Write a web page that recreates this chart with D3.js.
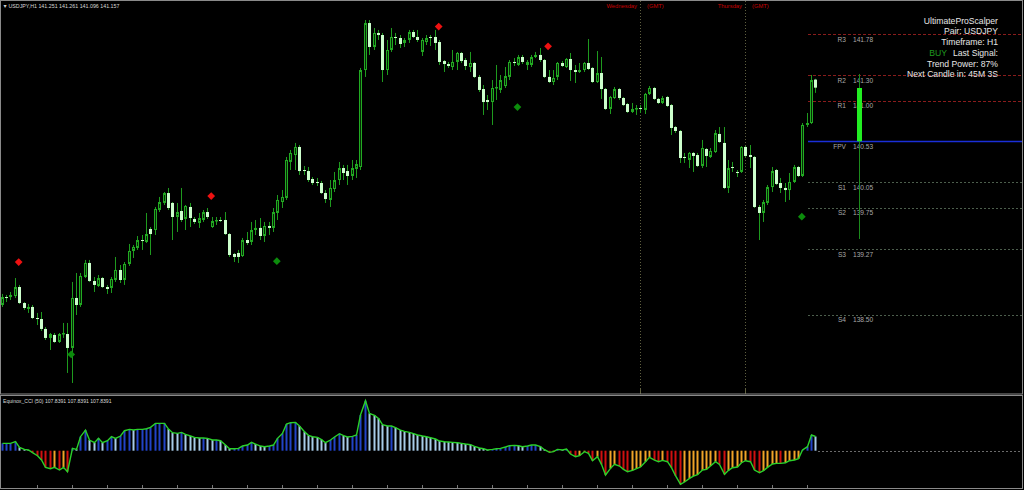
<!DOCTYPE html>
<html><head><meta charset="utf-8">
<script src="https://cdn.jsdelivr.net/npm/d3@7"></script>
<style>html,body{margin:0;padding:0;background:#000;overflow:hidden}svg{display:block}</style>
</head><body><svg id="c" width="1024" height="490"></svg>
<script>
// ---------- DATA ----------
const symbolTitle = "USDJPY,H1";
const openP = [
138.618,138.711,138.711,138.723,138.828,138.641,138.571,138.595,138.466,138.454,
138.338,138.233,138.268,138.186,138.279,138.279,138.116,138.700,138.618,138.945,
139.109,138.898,138.840,138.933,138.828,138.817,138.910,139.027,138.910,139.097,
139.249,139.284,139.377,139.354,139.506,139.494,139.728,139.810,139.926,139.810,
139.646,139.716,139.623,139.763,139.623,139.576,139.611,139.704,139.529,139.599,
139.611,139.611,139.447,139.214,139.226,139.190,139.377,139.354,139.494,139.518,
139.424,139.541,139.518,139.693,139.821,139.868,140.289,140.370,140.464,140.195,
140.183,140.090,140.055,140.043,139.926,139.845,139.973,140.078,140.218,140.183,
140.125,140.207,140.230,141.363,141.912,141.632,141.796,141.772,141.363,141.597,
141.749,141.737,141.679,141.714,141.807,141.749,141.574,141.690,141.749,141.749,
141.690,141.468,141.433,141.398,141.457,141.562,141.480,141.398,141.445,141.282,
141.141,141.013,140.989,141.153,141.130,141.176,141.282,141.457,141.422,141.515,
141.422,141.422,141.515,141.539,141.480,141.282,141.223,141.282,141.445,141.398,
141.492,141.363,141.340,141.363,141.445,141.387,141.223,141.328,141.141,140.908,
141.036,141.141,141.036,140.966,140.873,140.908,140.919,140.896,141.083,141.153,
141.025,140.978,141.048,140.954,140.697,140.651,140.347,140.312,140.394,140.370,
140.242,140.440,140.347,140.405,140.616,140.511,139.985,140.230,140.172,140.172,
140.464,140.370,140.347,139.763,139.693,139.810,139.996,140.195,140.043,139.985,
139.961,140.055,140.230,140.125,140.721,140.744,141.251];
const highP = [
138.747,138.735,138.770,138.933,138.852,138.653,138.630,138.618,138.525,138.536,
138.361,138.291,138.291,138.291,138.408,138.408,138.887,138.992,138.992,139.144,
139.144,138.945,138.968,138.945,138.852,138.945,139.179,139.085,139.120,139.331,
139.319,139.424,139.436,139.693,139.529,139.763,139.880,139.938,139.985,139.821,
139.810,139.985,139.786,139.810,139.646,139.693,139.728,139.751,139.646,139.646,
139.646,139.704,139.459,139.226,139.261,139.401,139.471,139.588,139.611,139.634,
139.588,139.588,139.751,139.903,139.961,140.347,140.429,140.511,140.487,140.242,
140.230,140.113,140.102,140.067,139.961,140.078,140.172,140.289,140.254,140.254,
140.312,140.312,141.387,141.947,141.947,141.854,141.831,141.796,141.714,141.854,
141.796,141.772,141.737,141.831,141.831,141.831,141.737,141.772,141.772,141.831,
141.714,141.480,141.457,141.597,141.574,141.574,141.503,141.574,141.457,141.305,
141.188,141.071,141.246,141.422,141.305,141.398,141.480,141.503,141.539,141.539,
141.480,141.539,141.574,141.620,141.492,141.363,141.363,141.457,141.468,141.503,
141.562,141.422,141.445,141.457,141.725,141.398,141.585,141.515,141.153,141.060,
141.165,141.153,141.048,140.978,140.978,140.954,140.954,141.095,141.176,141.165,
141.036,141.060,141.060,140.966,140.709,140.662,140.394,140.405,140.405,140.394,
140.546,140.452,140.452,140.662,140.697,140.697,140.312,140.289,140.195,140.475,
140.475,140.487,140.359,139.786,139.845,140.020,140.230,140.207,140.102,140.043,
140.160,140.254,140.242,140.744,140.861,141.305,141.261];
const lowP = [
138.595,138.653,138.676,138.700,138.630,138.560,138.525,138.454,138.384,138.314,
138.209,138.092,138.174,138.174,138.233,137.824,137.707,138.501,138.595,138.933,
138.887,138.770,138.828,138.817,138.747,138.758,138.887,138.875,138.852,139.074,
139.167,139.261,139.261,139.342,139.202,139.436,139.704,139.786,139.728,139.377,
139.471,139.588,139.494,139.529,139.564,139.518,139.588,139.623,139.518,139.553,
139.588,139.436,139.179,139.120,139.109,139.179,139.319,139.319,139.436,139.377,
139.354,139.436,139.471,139.611,139.751,139.845,140.195,140.195,140.137,140.137,
140.055,140.020,140.008,139.915,139.810,139.763,139.938,140.020,140.078,140.020,
140.078,140.102,140.195,141.282,141.539,141.597,141.714,141.223,141.305,141.574,
141.655,141.620,141.632,141.679,141.737,141.690,141.527,141.655,141.644,141.597,
141.422,141.340,141.387,141.363,141.363,141.445,141.363,141.340,141.270,141.106,
140.838,140.896,140.721,141.013,141.095,141.153,141.246,141.410,141.410,141.433,
141.363,141.398,141.503,141.457,141.270,141.211,141.188,141.246,141.398,141.387,
141.235,141.211,141.328,141.340,141.363,141.211,141.211,141.025,140.896,140.849,
141.025,141.013,140.943,140.861,140.861,140.838,140.861,140.849,141.071,141.013,
140.966,140.966,140.931,140.604,140.627,140.277,140.277,140.218,140.172,140.230,
140.218,140.230,140.335,140.394,140.511,139.973,139.926,140.172,140.113,140.160,
140.347,140.218,139.751,139.377,139.588,139.786,139.938,140.020,139.926,139.821,
139.845,140.043,140.113,140.113,140.697,140.732,141.096];
const closeP = [
138.711,138.700,138.735,138.828,138.641,138.583,138.595,138.466,138.454,138.338,
138.233,138.279,138.186,138.279,138.291,138.116,138.700,138.618,138.957,139.109,
138.898,138.852,138.933,138.828,138.805,138.922,139.027,138.910,139.097,139.249,
139.296,139.377,139.366,139.447,139.447,139.740,139.821,139.926,139.751,139.646,
139.704,139.611,139.775,139.634,139.588,139.634,139.704,139.646,139.599,139.611,
139.599,139.447,139.202,139.179,139.179,139.377,139.342,139.494,139.518,139.424,
139.541,139.518,139.704,139.845,139.880,140.312,140.394,140.464,140.183,140.183,
140.078,140.043,140.043,139.926,139.856,139.985,140.078,140.218,140.160,140.125,
140.218,140.265,141.363,141.912,141.632,141.796,141.772,141.363,141.597,141.749,
141.737,141.667,141.714,141.807,141.749,141.714,141.714,141.737,141.737,141.679,
141.457,141.433,141.410,141.457,141.562,141.468,141.410,141.445,141.282,141.130,
140.989,140.989,141.153,141.165,141.246,141.293,141.457,141.445,141.515,141.457,
141.457,141.515,141.539,141.480,141.282,141.223,141.270,141.445,141.410,141.492,
141.363,141.340,141.363,141.445,141.375,141.223,141.328,141.141,140.908,141.048,
141.141,141.036,140.954,140.873,140.908,140.919,140.908,141.083,141.153,141.025,
140.978,141.036,140.943,140.686,140.651,140.335,140.335,140.394,140.359,140.242,
140.452,140.359,140.417,140.627,140.522,139.985,140.218,140.218,140.160,140.464,
140.359,140.347,139.763,139.693,139.821,139.996,140.183,140.032,139.985,139.961,
140.055,140.230,140.125,140.721,140.744,141.246,141.157];
const cciValues = [
55.7,55.7,55.7,68.4,25.3,10.1,5.1,-15.2,-38.0,-70.9,
-126.7,-136.8,-126.7,-146.9,-126.7,-159.6,17.7,10.1,106.4,157.0,
81.1,60.8,93.7,60.8,76.0,106.4,93.7,111.5,152.0,162.1,
157.0,162.1,162.1,167.2,177.3,207.7,207.7,207.7,164.6,136.8,
131.7,139.3,124.1,111.5,101.3,96.3,96.3,93.7,81.1,81.1,
76.0,43.1,15.2,15.2,17.7,35.5,43.1,63.3,50.7,35.5,
30.4,35.5,43.1,93.7,131.7,202.6,212.8,215.3,187.4,144.4,
116.5,106.4,101.3,83.6,60.8,81.1,103.9,129.2,114.0,103.9,
108.9,119.1,271.0,380.0,283.7,268.5,245.7,197.6,187.4,187.4,
174.8,157.0,146.9,139.3,129.2,119.1,111.5,106.4,98.8,88.7,
73.5,68.4,65.9,63.3,60.8,55.7,50.7,45.6,32.9,20.3,
15.2,5.1,10.1,15.2,17.7,27.9,38.0,40.5,38.0,30.4,
35.5,43.1,43.1,30.4,7.6,-12.7,-7.6,10.1,5.1,12.7,
-25.3,-45.6,-38.0,-7.6,-20.3,-76.0,-45.6,-103.9,-184.9,-134.2,
-103.9,-116.5,-141.8,-159.6,-149.4,-136.8,-124.1,-83.6,-50.7,-70.9,
-83.6,-73.5,-83.6,-129.2,-190.0,-255.8,-238.1,-210.2,-192.5,-182.4,
-146.9,-141.8,-116.5,-83.6,-103.9,-179.8,-149.4,-129.2,-124.1,-91.2,
-76.0,-83.6,-146.9,-167.2,-152.0,-126.7,-101.3,-96.3,-96.3,-91.2,
-76.0,-70.9,-60.8,5.1,30.4,119.1,107.8391];
const cciLabel = "Equinox_CCI (50)";
const pivotNames = ["R3","R2","R1","FPV","S1","S2","S3","S4"];
const pivotValues = [141.78,141.30,141.00,140.53,140.05,139.75,139.27,138.50];
const sellSignalBar = [4,48,100,125];
const sellSignalPrice = [139.12,139.89,141.87,141.64];
const buySignalBar = [16,63,118,183];
const buySignalPrice = [138.04,139.13,140.93,139.65];
const separatorBars = [146,170];
const separatorDays = ["Wednesday","Thursday"];
const trendBarLevels = [139.389,140.53,141.153,141.317]; // low, body bottom, body top, high
const infoLines = ["UltimateProScalper","Pair: USDJPY","Timeframe: H1","Last Signal:","Trend Power: 87%","Next Candle in: 45M 3S"];
const lastSignal = "BUY";

// ---------- DRAW ----------
const W = 1024, H = 490;
const svg = d3.select("#c");
const FONT = "'Liberation Sans', Arial, sans-serif";
svg.append("rect").attr("width", W).attr("height", H).attr("fill", "#000");

const n = openP.length;
const idx = d3.range(n);
const x = d3.scaleLinear().domain([0, n - 1]).range([1.7, 1.7 + (n - 1) * 4.375]);
const y = d3.scaleLinear().domain([142.181, 137.6]).range([0, 392.13]);
const px = i => Math.round(x(i));

const defs = svg.append("defs");
defs.append("clipPath").attr("id", "mainClip").append("rect").attr("x", 1).attr("y", 1).attr("width", 1021).attr("height", 393);
defs.append("clipPath").attr("id", "subClip").append("rect").attr("x", 1).attr("y", 396).attr("width", 1021).attr("height", 92);

const main = svg.append("g").attr("clip-path", "url(#mainClip)");

// day separators
main.selectAll("line.sep").data(separatorBars).join("line")
  .attr("x1", d => px(d) + 0.5).attr("x2", d => px(d) + 0.5)
  .attr("y1", 1).attr("y2", 394)
  .attr("stroke", "#5f5f3f").attr("stroke-width", 1).attr("stroke-dasharray", "1,2");
svg.selectAll("line.sep2").data(separatorBars).join("line")
  .attr("x1", d => px(d) + 0.5).attr("x2", d => px(d) + 0.5)
  .attr("y1", 389).attr("y2", 394).attr("stroke", "#5f5f3f");
svg.selectAll("text.day").data(separatorBars).join("text")
  .attr("x", d => px(d) - 3).attr("y", 8)
  .attr("text-anchor", "end").attr("font-family", FONT).attr("font-size", 5.8)
  .attr("fill", "#c80000").text((d, k) => separatorDays[k]);
svg.selectAll("text.gmt").data(separatorBars).join("text")
  .attr("x", d => px(d) + 7).attr("y", 8)
  .attr("font-family", FONT).attr("font-size", 5.8)
  .attr("fill", "#c80000").text("(GMT)");

// pivot lines
const pivotStartX = 808;
const pivotColor = k => pivotNames[k] === "FPV" ? "#1a2fd8" : (pivotNames[k][0] === "R" ? "#8a1c1c" : "#4c5e4c");
main.selectAll("line.piv").data(pivotValues).join("line")
  .attr("x1", pivotStartX).attr("x2", 1022)
  .attr("y1", d => Math.round(y(d)) + 0.5).attr("y2", d => Math.round(y(d)) + 0.5)
  .attr("stroke", (d, k) => pivotColor(k))
  .attr("stroke-width", (d, k) => pivotNames[k] === "FPV" ? 1.6 : 1)
  .attr("stroke-dasharray", (d, k) => pivotNames[k] === "FPV" ? null : (pivotNames[k][0] === "R" ? "3,2" : "2,2"));
main.selectAll("text.pivn").data(pivotValues).join("text")
  .attr("x", 846).attr("y", d => y(d) + 7.4).attr("text-anchor", "end")
  .attr("font-family", FONT).attr("font-size", 6.6).attr("fill", "#a8a8a8")
  .text((d, k) => pivotNames[k]);
main.selectAll("text.pivv").data(pivotValues).join("text")
  .attr("x", 853).attr("y", d => y(d) + 7.4)
  .attr("font-family", FONT).attr("font-size", 6.6).attr("fill", "#a8a8a8")
  .text(d => d.toFixed(2));

// trend power bar
const tbX = 859;
main.append("line").attr("x1", tbX + 0.5).attr("x2", tbX + 0.5)
  .attr("y1", y(trendBarLevels[3])).attr("y2", y(trendBarLevels[0]))
  .attr("stroke", "#1c8a1c").attr("stroke-width", 1);
main.append("rect").attr("x", tbX - 2).attr("width", 5)
  .attr("y", y(trendBarLevels[2])).attr("height", y(trendBarLevels[1]) - y(trendBarLevels[2]))
  .attr("fill", "#22ee22");

// candles
const bull = i => closeP[i] >= openP[i];
main.selectAll("line.wick").data(idx).join("line")
  .attr("x1", i => px(i) + 0.5).attr("x2", i => px(i) + 0.5)
  .attr("y1", i => y(highP[i])).attr("y2", i => y(lowP[i]))
  .attr("stroke", "#1e9a1e").attr("stroke-width", 1);
main.selectAll("rect.body").data(idx).join("rect")
  .attr("x", i => bull(i) ? px(i) - 0.5 : px(i) - 1)
  .attr("width", i => bull(i) ? 2 : 3)
  .attr("y", i => {
    const t = y(Math.max(openP[i], closeP[i]));
    return bull(i) ? t + 0.5 : t;
  })
  .attr("height", i => {
    const h = Math.abs(y(openP[i]) - y(closeP[i]));
    return bull(i) ? Math.max(h - 1, 0.5) : Math.max(h, 1);
  })
  .attr("fill", i => bull(i) ? "#062a06" : "#ccffcc")
  .attr("stroke", i => bull(i) ? "#22aa22" : "none")
  .attr("stroke-width", 1);

// signal diamonds
const diamond = d3.symbol(d3.symbolSquare, 30)();
main.selectAll("path.sell").data(sellSignalBar).join("path")
  .attr("d", diamond)
  .attr("transform", (d, k) => `translate(${x(d) - 0.5},${y(sellSignalPrice[k])}) rotate(45)`)
  .attr("fill", "#ee1111");
main.selectAll("path.buy").data(buySignalBar).join("path")
  .attr("d", diamond)
  .attr("transform", (d, k) => `translate(${x(d) - 0.5},${y(buySignalPrice[k])}) rotate(45)`)
  .attr("fill", "#0c8c0c");

// title
const last = n - 1;
svg.append("text").attr("x", 2.5).attr("y", 8).attr("font-family", FONT).attr("font-size", 5.2)
  .attr("fill", "#d0d0d0").text("\u25BC");
svg.append("text").attr("x", 8.5).attr("y", 8).attr("font-family", FONT).attr("font-size", 5.3)
  .attr("fill", "#d8d8d8")
  .text(`${symbolTitle}  ${openP[last].toFixed(3)} ${highP[last].toFixed(3)} ${lowP[last].toFixed(3)} ${closeP[last].toFixed(3)}`);

// info box
const infoG = svg.append("g");
infoLines.forEach((t, k) => {
  infoG.append("text")
    .attr("transform", `translate(998,${23.5 + k * 10.75}) scale(0.88,1)`)
    .attr("text-anchor", "end").attr("font-family", FONT).attr("font-size", 9.8)
    .attr("fill", "#e6e6e6").text(t);
});
infoG.append("text")
  .attr("transform", `translate(947,${23.5 + 3 * 10.75}) scale(0.88,1)`)
  .attr("text-anchor", "end").attr("font-family", FONT).attr("font-size", 9.8)
  .attr("fill", "#1f9a1f").text(lastSignal);

// ---------- CCI PANEL ----------
const sub = svg.append("g").attr("clip-path", "url(#subClip)");
const yc = d3.scaleLinear().domain([0, 380]).range([450.7, 400.7]);
const cciColor = i => {
  const v = cciValues[i], p = i > 0 ? cciValues[i - 1] : v;
  if (v >= 0) return v >= p ? "#2244c8" : "#a8cce8";
  return v <= p ? "#d01010" : "#f0a428";
};
sub.selectAll("rect.cci").data(idx).join("rect")
  .attr("x", i => px(i) - 0.5).attr("width", 2)
  .attr("y", i => Math.min(yc(0), yc(cciValues[i])))
  .attr("height", i => Math.abs(yc(cciValues[i]) - yc(0)))
  .attr("fill", i => cciColor(i));
sub.append("line").attr("x1", px(last) + 3).attr("x2", 1022)
  .attr("y1", Math.round(yc(0)) + 0.5).attr("y2", Math.round(yc(0)) + 0.5)
  .attr("stroke", "#6a6a6a").attr("stroke-dasharray", "2,2");
sub.append("path").datum(idx)
  .attr("d", d3.line().x(i => px(i) + 0.5).y(i => yc(cciValues[i])))
  .attr("fill", "none").attr("stroke", "#2ad02a").attr("stroke-width", 1.4);
svg.append("text").attr("x", 3).attr("y", 402.5).attr("font-family", FONT).attr("font-size", 5.1)
  .attr("fill", "#d8d8d8")
  .text(`${cciLabel} ${cciValues[last].toFixed(4)} ${cciValues[last].toFixed(4)} ${cciValues[last].toFixed(4)}`);

// bottom time ticks
svg.selectAll("line.tick").data(idx.filter(i => i % 8 === 0 && i > 0)).join("line")
  .attr("x1", i => px(i) + 0.5).attr("x2", i => px(i) + 0.5)
  .attr("y1", 485).attr("y2", 488).attr("stroke", "#777");

// frames
svg.append("rect").attr("x", 0.5).attr("y", 0.5).attr("width", 1022).attr("height", 393.5)
  .attr("fill", "none").attr("stroke", "#8a8a8a");
svg.append("rect").attr("x", 0.5).attr("y", 395.5).attr("width", 1022).attr("height", 93)
  .attr("fill", "none").attr("stroke", "#8a8a8a");
</script></body></html>
